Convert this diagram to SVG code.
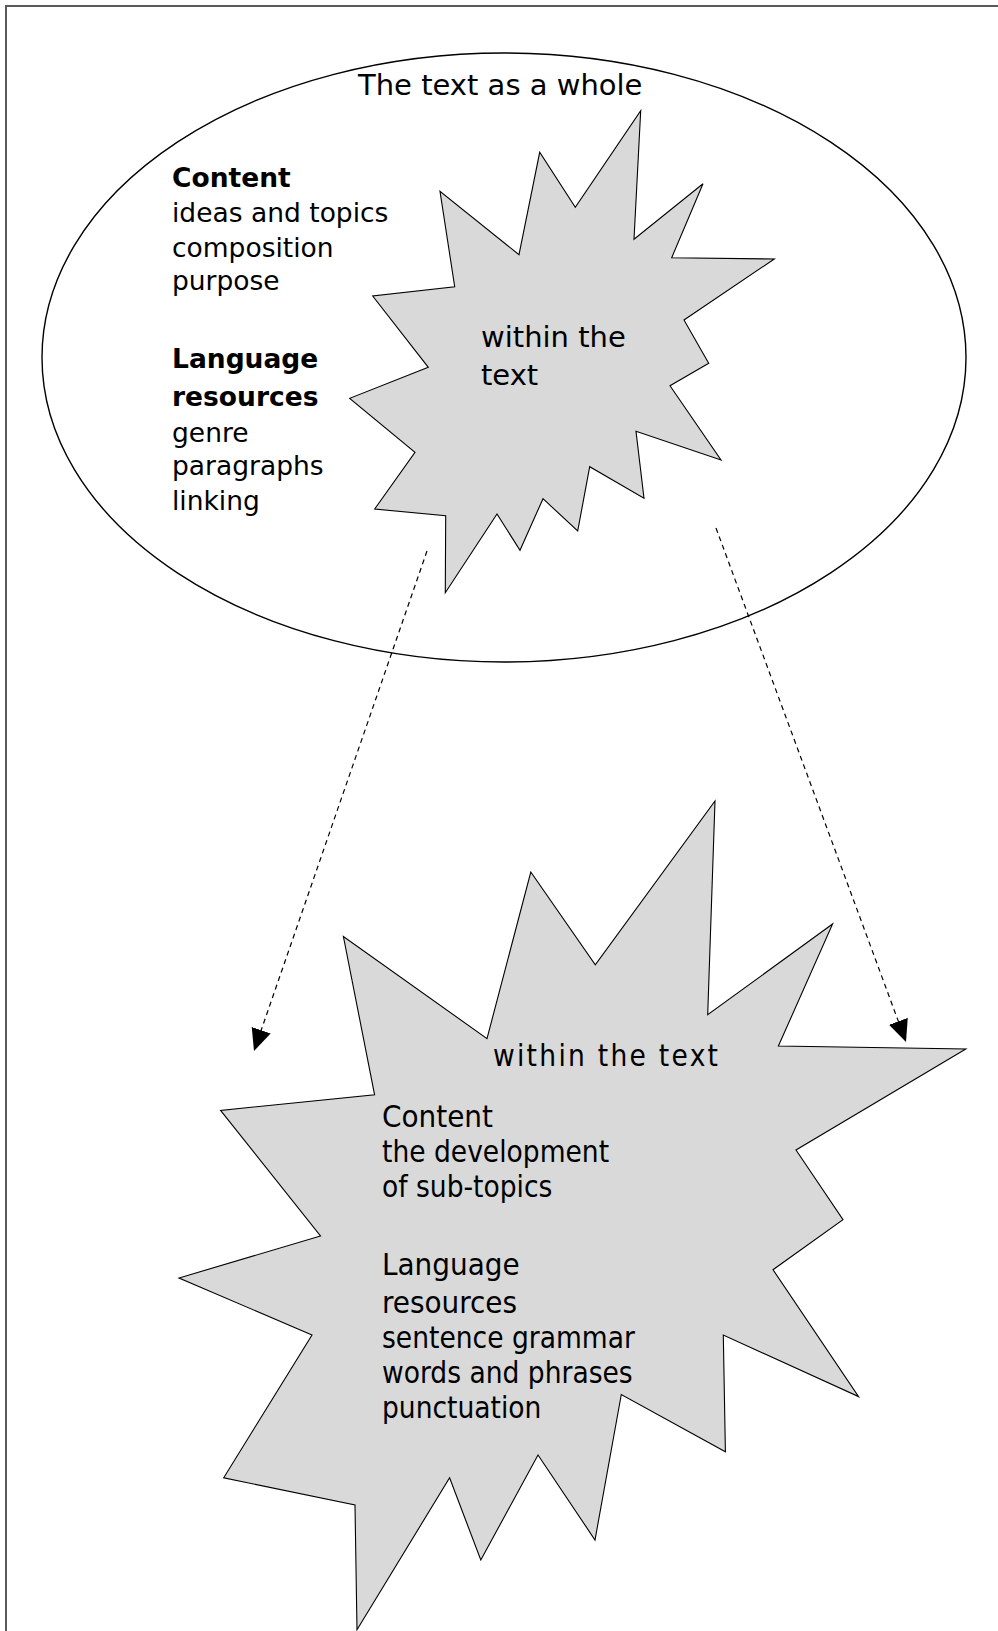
<svg xmlns="http://www.w3.org/2000/svg" width="998" height="1631" viewBox="0 0 998 1631">
<style>
.frame{fill:none;stroke:#5a5a5a;stroke-width:2}
.oval{fill:#fff;stroke:#000;stroke-width:1.4}
.star{fill:#d9d9d9;stroke:#000;stroke-width:1.1;stroke-linejoin:miter}
.t{font-family:"DejaVu Sans",sans-serif;fill:#000}
.up{font-size:26.5px}
.b{font-weight:bold}
.low{font-family:"DejaVu Sans Condensed","DejaVu Sans",sans-serif;font-stretch:condensed;font-size:29.5px;fill:#000}
.hd{font-size:31px}
.dash{fill:none;stroke:#000;stroke-width:1.2;stroke-dasharray:5 4}
</style>
<defs>
<marker id="ah" markerUnits="userSpaceOnUse" markerWidth="24" markerHeight="22" refX="22" refY="10" orient="auto">
<path d="M0,0 L22,10 L0,20 Z" fill="#000"/>
</marker>
</defs>
<rect class="frame" x="6" y="6" width="1000" height="1640"/>
<g id="whole">
<ellipse class="oval" cx="504" cy="357.5" rx="462" ry="304.5"/>
<text class="t" x="358" y="95" font-size="29">The text as a whole</text>
<text class="t up b" x="172" y="187">Content</text>
<text class="t up" x="172" y="222">ideas and topics</text>
<text class="t up" x="172" y="257">composition</text>
<text class="t up" x="172" y="290">purpose</text>
<text class="t up b" x="172" y="368">Language</text>
<text class="t up b" x="172" y="406">resources</text>
<text class="t up" x="172" y="442">genre</text>
<text class="t up" x="172" y="475">paragraphs</text>
<text class="t up" x="172" y="510">linking</text>
</g>
<g id="within-small">
<polygon class="star" points="640.7,110.7 634,239.3 703,183.7 671.7,257.7 774.3,259 684,320 708.7,363.3 670,385.7 721,460 636,431.3 644,498.3 589.7,466.7 577.7,531 543,498.7 520,550.3 497,514 445.3,592.7 445.7,515.7 374.7,509 415,452.3 349.7,398.3 428.3,367.3 372.7,296 454.7,286.7 440,191.3 519,254.7 539.7,152.3 575.3,207.3"/>
<text class="t" x="481" y="347" font-size="29">within the</text>
<text class="t" x="481" y="385" font-size="29">text</text>
</g>
<g id="within-large">
<polygon class="star" points="715,801 707.7,1014.7 832.6,924 778.4,1046 965.8,1049 796,1150 843,1219.7 773,1269.7 858.6,1396.6 723.3,1335 725.4,1451.8 621.3,1394.5 595,1540 538,1455 480.8,1560 449.6,1477.8 357,1629.7 355,1505 223.7,1477.8 312,1335 179,1278 320.5,1236 220.6,1110.4 374.6,1094.8 343.4,936.6 487,1038.6 530.8,872 595.3,964.7"/>
<text class="low" x="493" y="1066" textLength="225" lengthAdjust="spacing">within the text</text>
<text class="low hd" x="382" y="1127">Content</text>
<text class="low" x="382" y="1162">the development</text>
<text class="low" x="382" y="1197">of sub-topics</text>
<text class="low hd" x="382" y="1275">Language</text>
<text class="low hd" x="382" y="1313">resources</text>
<text class="low" x="382" y="1348">sentence grammar</text>
<text class="low" x="382" y="1383">words and phrases</text>
<text class="low" x="382" y="1418">punctuation</text>
</g>
<g id="connectors">
<line class="dash" x1="427" y1="551" x2="254" y2="1051" marker-end="url(#ah)"/>
<line class="dash" x1="716" y1="528" x2="906" y2="1042" marker-end="url(#ah)"/>
</g>
</svg>
